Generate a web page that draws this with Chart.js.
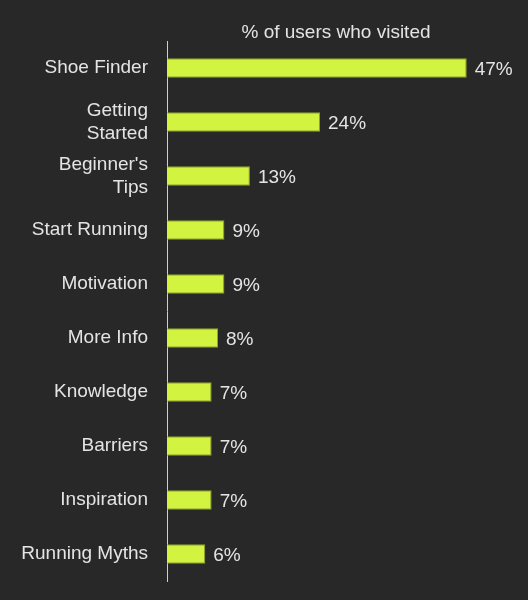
<!DOCTYPE html>
<html>
<head>
<meta charset="utf-8">
<script src="https://cdn.jsdelivr.net/npm/chart.js@4"></script>
<style>
  html, body { margin: 0; padding: 0; background: #282828; }
  #wrap { width: 528px; height: 600px; }
</style>
</head>
<body>
<div id="wrap"><canvas id="visits"></canvas></div>
<script>
// Pages and the share of users who visited them
const pages = [
    "Shoe Finder", ["Getting", "Started"], ["Beginner's", "Tips"], "Start Running",
    "Motivation", "More Info", "Knowledge", "Barriers", "Inspiration", "Running Myths"
];
const visited = [47, 24, 13, 9, 9, 8, 7, 7, 7, 6];
const axisTitle = "% of users who visited";

const TEXT = '#e4e4e4';
const FONT = {family: "'Liberation Sans', Arial, Helvetica, sans-serif", size: 19};

// Writes the value just past the end of each bar
const valueLabels = {
    id: 'valueLabels',
    afterDatasetsDraw(chart) {
        const ctx = chart.ctx;
        const meta = chart.getDatasetMeta(0);
        ctx.save();
        ctx.font = FONT.size + 'px ' + FONT.family;
        ctx.fillStyle = TEXT;
        ctx.textBaseline = 'middle';
        meta.data.forEach((bar, i) => {
            const txt = visited[i] + '%';
            const w = ctx.measureText(txt).width;
            // keep it inside the canvas when the bar is long
            let x = Math.min(bar.x + 8, chart.width - 12 - w);
            x = Math.max(x, bar.x + 2);
            ctx.fillText(txt, x, bar.y + 2);
        });
        ctx.restore();
    }
};

new Chart("visits", {
    type: "bar",
    data: {
        labels: pages,
        datasets: [{
            data: visited,
            backgroundColor: "#d2f33f",
            borderColor: "#8fa52b",
            borderWidth: 1,
            barPercentage: 0.36,
            categoryPercentage: 1
        }]
    },
    options: {
        indexAxis: 'y',
        responsive: true,
        maintainAspectRatio: false,
        animation: false,
        layout: {padding: {left: 0, right: 23, top: 0, bottom: 19}},
        plugins: {
            legend: {display: false},
            tooltip: {enabled: false}
        },
        scales: {
            x: {
                position: 'top',
                min: 0,
                max: 53,
                grid: {display: false},
                border: {display: false},
                ticks: {display: false},
                title: {display: true, text: axisTitle, color: TEXT, font: FONT, padding: {top: 21, bottom: 0}},
                afterFit: (scale) => { scale.height = 41; }
            },
            y: {
                grid: {display: false, drawTicks: false},
                border: {display: true, color: '#cfcfcf', width: 1},
                ticks: {color: TEXT, font: FONT, padding: 19, autoSkip: false},
                afterFit: (scale) => {
                    scale.width = 167;
                    // categories are offset, labels never need extra room
                    scale.paddingTop = 0;
                    scale.paddingBottom = 0;
                }
            }
        }
    },
    plugins: [valueLabels]
});
</script>
</body>
</html>
